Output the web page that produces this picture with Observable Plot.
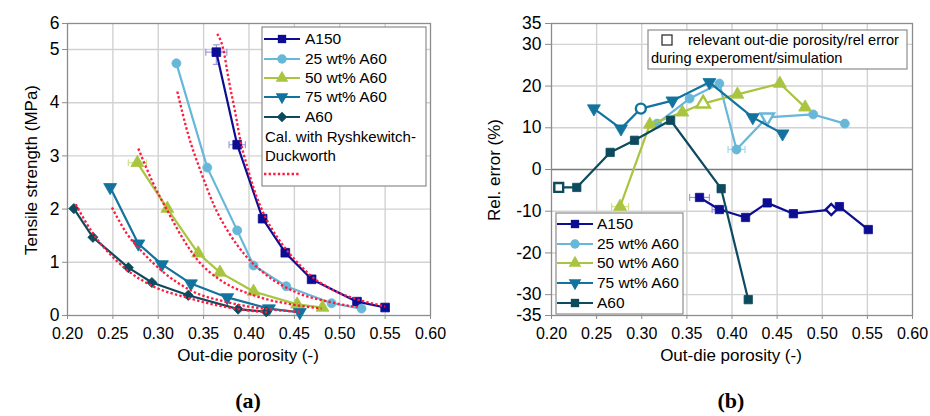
<!DOCTYPE html>
<html><head><meta charset="utf-8">
<script src="https://cdn.jsdelivr.net/npm/d3@7"></script>
<script src="https://cdn.jsdelivr.net/npm/@observablehq/plot@0.6"></script>
<style>
body{margin:0;background:#fff;font-family:"Liberation Sans",Arial,sans-serif;}
#root{position:relative;width:930px;height:416px;overflow:hidden;background:#fff;}
#root svg{position:absolute;top:0;}
</style></head><body><div id="root"></div>
<script>
// ---------- shared ----------
const seriesNames = ["A150","25 wt% A60","50 wt% A60","75 wt% A60","A60"];
const seriesColors = ["#0d0d93","#67b7d9","#a9c43f","#12739e","#0d4a5e"];
const errColors = ["#9a9ae0","#a8d6ea","#cfe08a","#8cc0d8","#7fa0aa"];
const redColor = "#ff1a40";
const xTicks = [0.20,0.25,0.30,0.35,0.40,0.45,0.50,0.55,0.60];
const xGrid = [0.25,0.30,0.35,0.40,0.45,0.50,0.55];

// ---------- panel (a): tensile strength ----------
const yTicksA = [0,1,2,3,4,5,6];
const yGridA = [1,2,3,4,5];
const tsA150_p = [0.364,0.387,0.415,0.440,0.469,0.519,0.550];
const tsA150_v = [4.95,3.21,1.82,1.18,0.68,0.26,0.15];
const ts25_p = [0.320,0.354,0.387,0.405,0.441,0.491,0.524];
const ts25_v = [4.74,2.78,1.60,0.94,0.55,0.23,0.13];
const ts50_p = [0.277,0.310,0.344,0.368,0.405,0.453,0.481];
const ts50_v = [2.87,2.01,1.17,0.81,0.45,0.21,0.15];
const ts75_p = [0.247,0.278,0.304,0.336,0.376,0.422,0.456];
const ts75_v = [2.41,1.35,0.96,0.60,0.34,0.13,0.06];
const tsA60_p = [0.207,0.228,0.267,0.293,0.333,0.388,0.419];
const tsA60_v = [2.01,1.47,0.90,0.62,0.38,0.12,0.07];

// Ryshkewitch-Duckworth calculated curves
const rdA150_p = [0.365,0.371,0.378,0.385,0.391,0.398,0.405,0.418,0.430,0.442,0.456,0.470,0.485,0.500,0.520,0.550];
const rdA150_v = [5.60,5.10,4.40,3.80,3.25,2.80,2.40,1.85,1.50,1.22,0.95,0.72,0.55,0.42,0.30,0.17];
const rd25_p = [0.321,0.333,0.347,0.362,0.378,0.395,0.420,0.450,0.490,0.522];
const rd25_v = [4.21,3.40,2.70,2.05,1.55,1.15,0.75,0.45,0.25,0.15];
const rd50_p = [0.278,0.294,0.311,0.327,0.343,0.369,0.405,0.450,0.480];
const rd50_v = [3.14,2.50,1.94,1.45,1.05,0.66,0.38,0.20,0.13];
const rd75_p = [0.249,0.265,0.281,0.306,0.336,0.376,0.420,0.456];
const rd75_v = [2.03,1.55,1.22,0.81,0.47,0.25,0.12,0.07];
const rdA60_p = [0.209,0.229,0.247,0.266,0.293,0.333,0.388,0.420];
const rdA60_v = [2.09,1.52,1.15,0.85,0.56,0.33,0.12,0.06];

// error bars panel (a): series index, porosity, value, half-width in x, half-height in y
const errA_series = [0,0,2];
const errA_p = [0.364,0.387,0.277];
const errA_v = [4.95,3.21,2.87];
const errA_dx = [0.0116,0.009,0.010];
const errA_dy = [0.23,0,0];

// ---------- panel (b): relative error ----------
const yTicksB = [-35,-30,-20,-10,0,10,20,30,35];
const yGridB = [-30,-20,-10,10,20,30];
const reA150_p = [0.364,0.386,0.415,0.439,0.468,0.510,0.519,0.551];
const reA150_v = [-6.7,-9.6,-11.5,-8.0,-10.6,-9.6,-8.9,-14.4];
const re25_p = [0.317,0.353,0.386,0.405,0.439,0.490,0.525];
const re25_v = [11.0,17.0,20.6,4.8,12.5,13.2,11.0];
const re50_p = [0.276,0.309,0.345,0.368,0.406,0.453,0.481];
const re50_v = [-8.9,10.8,13.7,15.8,18.0,20.6,14.9];
const re75_p = [0.247,0.277,0.299,0.334,0.375,0.423,0.456];
const re75_v = [14.6,9.8,14.6,16.5,20.9,12.5,8.6];
const reA60_p = [0.208,0.228,0.265,0.292,0.332,0.388,0.418];
const reA60_v = [-4.3,-4.3,4.1,7.0,11.8,-4.6,-31.2];
// "relevant" open marker per series (index into the series) and its symbol
const relIndex = [5,4,3,2,0];
const relSymbol = ["diamond2","triDown","triangle","circle","square"];
// horizontal error bars panel (b)
const errB_series = [0,0,1,2];
const errB_p = [0.364,0.386,0.405,0.276];
const errB_v = [-6.7,-9.6,4.8,-8.9];
const errB_dx = [0.011,0.008,0.0094,0.0094];
const errB_dy = [0,0,0,0];

// ---------- helpers ----------
const triDown = {draw(ctx, size){
  const s = Math.sqrt(size / (Math.sqrt(3)/4)), h = s*Math.sqrt(3)/2;
  ctx.moveTo(-s/2, -h/3); ctx.lineTo(s/2, -h/3); ctx.lineTo(0, 2*h/3); ctx.closePath();
}};
const vbar = {draw(ctx){ ctx.moveTo(0,-3.5); ctx.lineTo(0,3.5); }};
const hbar = {draw(ctx){ ctx.moveTo(-3.5,0); ctx.lineTo(3.5,0); }};
function sym(name){ return name === "triDown" ? triDown : name; }
const symA = ["square","circle","triangle","triDown","diamond2"];
const symB = ["square","circle","triangle","triDown","square"];
const rA = [4.9,4.5,4.8,4.8,4.6];
const rB = [4.7,4.5,4.8,4.8,4.7];

function zipSeries(ps, vs){ return ps.map((p,i)=>({p, v: vs[i], i})); }
const tsData = [zipSeries(tsA150_p,tsA150_v),zipSeries(ts25_p,ts25_v),zipSeries(ts50_p,ts50_v),zipSeries(ts75_p,ts75_v),zipSeries(tsA60_p,tsA60_v)];
const rdData = [zipSeries(rdA150_p,rdA150_v),zipSeries(rd25_p,rd25_v),zipSeries(rd50_p,rd50_v),zipSeries(rd75_p,rd75_v),zipSeries(rdA60_p,rdA60_v)];
const reData = [zipSeries(reA150_p,reA150_v),zipSeries(re25_p,re25_v),zipSeries(re50_p,re50_v),zipSeries(re75_p,re75_v),zipSeries(reA60_p,reA60_v)];
const errA = errA_p.map((p,i)=>({s:errA_series[i], p, v:errA_v[i], dx:errA_dx[i], dy:errA_dy[i]}));
const errB = errB_p.map((p,i)=>({s:errB_series[i], p, v:errB_v[i], dx:errB_dx[i], dy:errB_dy[i]}));

const gridStyle = {stroke:"#d2d2d2", strokeOpacity:1, strokeWidth:1.4};
const font = "Liberation Sans, Arial, sans-serif";

function errMarks(errs){
  const m = [];
  errs.forEach(e=>{
    const c = errColors[e.s];
    m.push(Plot.link([e],{x1:d=>d.p-d.dx, x2:d=>d.p+d.dx, y1:"v", y2:"v", stroke:c, strokeWidth:1.2}));
    m.push(Plot.dot([e],{x:d=>d.p-d.dx, y:"v", symbol:vbar, r:3, stroke:c, strokeWidth:1.2}));
    m.push(Plot.dot([e],{x:d=>d.p+d.dx, y:"v", symbol:vbar, r:3, stroke:c, strokeWidth:1.2}));
    if (e.dy > 0) {
      m.push(Plot.link([e],{x1:"p", x2:"p", y1:d=>d.v-d.dy, y2:d=>d.v+d.dy, stroke:c, strokeWidth:1.2}));
      m.push(Plot.dot([e],{x:"p", y:d=>d.v-d.dy, symbol:hbar, r:3, stroke:c, strokeWidth:1.2}));
      m.push(Plot.dot([e],{x:"p", y:d=>d.v+d.dy, symbol:hbar, r:3, stroke:c, strokeWidth:1.2}));
    }
  });
  return m;
}
const dotted = {stroke:redColor, strokeWidth:2.3, strokeDasharray:"2.4,2.2", strokeLinecap:"butt", strokeLinejoin:"miter"};

// ---------- panel (a) ----------
const marksA = [
  Plot.gridX({ticks:xGrid, ...gridStyle}),
  Plot.gridY({ticks:yGridA, ...gridStyle}),
  Plot.frame({stroke:"#8c8c8c", strokeWidth:1.3}),
  Plot.axisX({ticks:xTicks, tickFormat:d=>d.toFixed(2), tickSize:4, tickPadding:8, fontSize:16, stroke:"#8c8c8c", label:null}),
  Plot.axisY({ticks:yTicksA, tickFormat:d=>String(d), tickSize:5, tickPadding:3, fontSize:17.5, stroke:"#8c8c8c", label:null}),
  ...errMarks(errA)
];
tsData.forEach((data,k)=>{
  marksA.push(Plot.line(data,{x:"p", y:"v", stroke:seriesColors[k], strokeWidth:2.2}));
  marksA.push(Plot.dot(data,{x:"p", y:"v", symbol:sym(symA[k]), r:rA[k], fill:seriesColors[k], stroke:seriesColors[k], strokeWidth:0.8}));
});
rdData.forEach(data=>{
  marksA.push(Plot.line(data,{x:"p", y:"v", curve:"monotone-x", ...dotted}));
});
const plotA = Plot.plot({
  width:465, height:345, marginLeft:67, marginRight:35, marginTop:23, marginBottom:30,
  style:{fontFamily:font, color:"#000", background:"transparent", overflow:"visible"},
  x:{domain:[0.2,0.6]},
  y:{type:"linear", domain:[0,5,6], range:[315,49,23]},
  marks:marksA
});
plotA.style.left = "0px";

// ---------- panel (b) ----------
const marksB = [
  Plot.gridX({ticks:xGrid, ...gridStyle}),
  Plot.gridY({ticks:yGridB, ...gridStyle}),
  Plot.ruleY([0],{stroke:"#7a7a7a", strokeWidth:1.3}),
  Plot.frame({stroke:"#8c8c8c", strokeWidth:1.3}),
  Plot.axisX({ticks:xTicks, tickFormat:d=>d.toFixed(2), tickSize:4, tickPadding:8, fontSize:16, stroke:"#8c8c8c", label:null}),
  Plot.axisY({ticks:yTicksB, tickFormat:d=>String(d), tickSize:6, tickPadding:4, fontSize:17.5, stroke:"#8c8c8c", label:null}),
  ...errMarks(errB)
];
reData.forEach((data,k)=>{
  marksB.push(Plot.line(data,{x:"p", y:"v", stroke:seriesColors[k], strokeWidth:2.2}));
  marksB.push(Plot.dot(data.filter(d=>d.i!==relIndex[k]),{x:"p", y:"v", symbol:sym(symB[k]), r:rB[k], fill:seriesColors[k], stroke:seriesColors[k], strokeWidth:0.8}));
  marksB.push(Plot.dot(data.filter(d=>d.i===relIndex[k]),{x:"p", y:"v", symbol:sym(relSymbol[k]), r:5, fill:"#fff", stroke:seriesColors[k], strokeWidth:2.4}));
});
const plotB = Plot.plot({
  width:465, height:345, marginLeft:86, marginRight:18, marginTop:23, marginBottom:30,
  style:{fontFamily:font, color:"#000", background:"transparent", overflow:"visible"},
  x:{domain:[0.2,0.6]},
  y:{domain:[-35,35]},
  marks:marksB
});
plotB.style.left = "465px";

const root = document.getElementById("root");
root.appendChild(plotA);
root.appendChild(plotB);

// ---------- overlay: legends, axis titles, panel labels ----------
const ov = d3.select(root).append("svg").attr("width",930).attr("height",416).style("left","0px").style("font-family",font);
function symPath(name, r){
  const s = name==="triDown" ? triDown : ({square:d3.symbolSquare,circle:d3.symbolCircle,triangle:d3.symbolTriangle,diamond2:d3.symbolDiamond2})[name];
  return d3.symbol(s, Math.PI*r*r)();
}
function legend(x0,y0,w,h,rows,lineX1,lineX2,textX,symbols,fs){
  ov.append("rect").attr("x",x0).attr("y",y0).attr("width",w).attr("height",h).attr("fill","#fff").attr("stroke","#8c8c8c").attr("stroke-width",1.2);
  rows.forEach((y,k)=>{
    ov.append("line").attr("x1",lineX1).attr("x2",lineX2).attr("y1",y).attr("y2",y).attr("stroke",seriesColors[k]).attr("stroke-width",2.2);
    ov.append("path").attr("d",symPath(symbols[k],4.7)).attr("transform",`translate(${(lineX1+lineX2)/2},${y})`).attr("fill",seriesColors[k]);
    ov.append("text").attr("x",textX).attr("y",y).attr("dy","0.35em").attr("font-size",fs).text(seriesNames[k]);
  });
}
legend(262,27,164,159,[39,59,78,97,117],264,300,305,symA,15.5);
ov.append("text").attr("x",265).attr("y",137).attr("dy","0.35em").attr("font-size",15).text("Cal. with Ryshkewitch-");
ov.append("text").attr("x",265).attr("y",156).attr("dy","0.35em").attr("font-size",15).text("Duckworth");
ov.append("line").attr("x1",264).attr("x2",300).attr("y1",174).attr("y2",174).attr("stroke",redColor).attr("stroke-width",2.3).attr("stroke-dasharray","2.4,2.2");

legend(556,213,127,101,[224,244,263,283,303],557,593,597,symB,15.5);

ov.append("rect").attr("x",648).attr("y",30).attr("width",259).attr("height",39).attr("fill","#fff").attr("stroke","#8c8c8c").attr("stroke-width",1.2);
ov.append("rect").attr("x",662).attr("y",35).attr("width",10).attr("height",10).attr("fill","#fff").attr("stroke","#333").attr("stroke-width",1.3);
ov.append("text").attr("x",688).attr("y",40).attr("dy","0.35em").attr("font-size",14.6).text("relevant out-die porosity/rel error");
ov.append("text").attr("x",651).attr("y",58).attr("dy","0.35em").attr("font-size",14.6).text("during experoment/simulation");

ov.append("text").attr("transform","translate(31,170) rotate(-90)").attr("text-anchor","middle").attr("dy","0.35em").attr("font-size",17).text("Tensile strength (MPa)");
ov.append("text").attr("transform","translate(494,170) rotate(-90)").attr("text-anchor","middle").attr("dy","0.35em").attr("font-size",17).text("Rel. error (%)");
ov.append("text").attr("x",248).attr("y",355).attr("text-anchor","middle").attr("dy","0.35em").attr("font-size",17).text("Out-die porosity (-)");
ov.append("text").attr("x",731).attr("y",355).attr("text-anchor","middle").attr("dy","0.35em").attr("font-size",17).text("Out-die porosity (-)");
ov.append("text").attr("x",248).attr("y",400).attr("text-anchor","middle").attr("dy","0.35em").attr("font-size",22).attr("font-family","Liberation Serif, serif").attr("font-weight","bold").text("(a)");
ov.append("text").attr("x",731).attr("y",400).attr("text-anchor","middle").attr("dy","0.35em").attr("font-size",22).attr("font-family","Liberation Serif, serif").attr("font-weight","bold").text("(b)");
</script></body></html>
